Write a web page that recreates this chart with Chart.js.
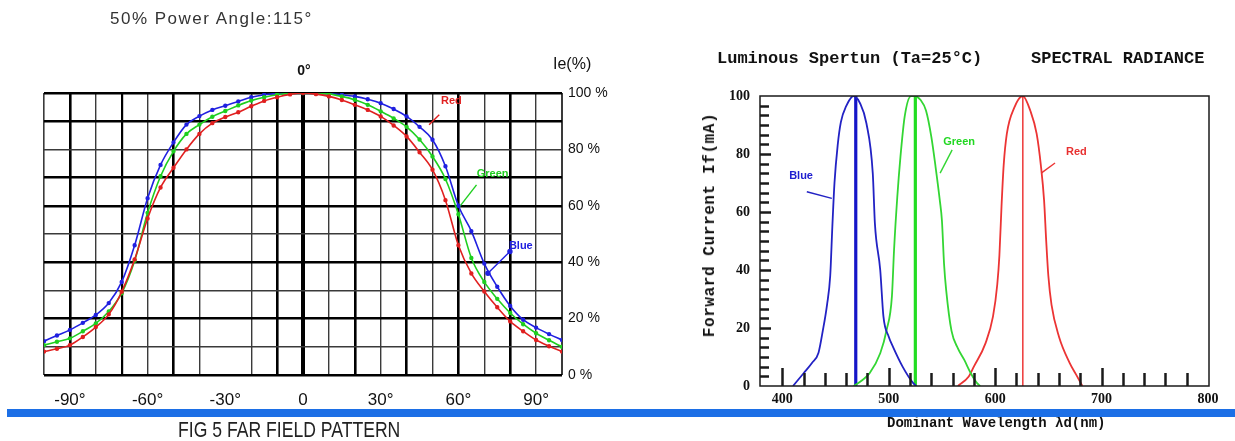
<!DOCTYPE html>
<html>
<head>
<meta charset="utf-8">
<script src="https://cdn.jsdelivr.net/npm/chart.js@4.4.1/dist/chart.umd.min.js"></script>
<style>
  html, body { margin: 0; padding: 0; background: #fff; }
  body { width: 1235px; height: 441px; position: relative; overflow: hidden; }
  .box { position: absolute; top: 0; height: 441px; }
  #farBox { left: 0; width: 620px; }
  #specBox { left: 620px; width: 615px; }
  .txt { position: absolute; white-space: nowrap; color: #111; line-height: 1; }
  .sans { font-family: 'Liberation Sans', Arial, sans-serif; }
  .mono { font-family: 'Liberation Mono', 'DejaVu Sans Mono', monospace; font-weight: bold; }
  #bar { position: absolute; left: 7px; top: 409px; width: 1228px; height: 8px; background: #1c6fe6; }
</style>
</head>
<body>
<div class="box" id="farBox"><canvas id="farChart" width="620" height="441"></canvas></div>
<div class="box" id="specBox"><canvas id="specChart" width="615" height="441"></canvas></div>

<div class="txt sans" style="left:110px; top:10px; font-size:17px; letter-spacing:1.5px; color:#333;">50% Power Angle:115°</div>
<div class="txt sans" style="left:304px; top:63px; font-size:14px; font-weight:bold; transform:translateX(-50%);">0°</div>
<div class="txt sans" style="left:553px; top:56px; font-size:16px;">Ie(%)</div>
<div class="txt sans" style="left:178px; top:419px; font-size:22px; transform:scaleX(0.8); transform-origin:left top; color:#222;">FIG 5 FAR FIELD PATTERN</div>

<div class="txt mono" style="left:717px; top:50px; font-size:17px;">Luminous Spertun (Ta=25°C)</div>
<div class="txt mono" style="left:1031px; top:50px; font-size:17px;">SPECTRAL RADIANCE</div>
<div class="txt mono" style="left:710px; top:225px; font-size:16px; letter-spacing:0.6px; transform:translate(-50%,-50%) rotate(-90deg);">Forward Current If(mA)</div>
<div class="txt mono" style="left:887px; top:416px; font-size:14px;">Dominant Wavelength λd(nm)</div>

<div id="bar"></div>

<script>
// ---- Far field pattern (left) ----
const farAngles = [-100, -95, -90, -85, -80, -75, -70, -65, -60, -55, -50, -45, -40, -35, -30, -25, -20, -15, -10, -5, 0,
  5, 10, 15, 20, 25, 30, 35, 40, 45, 50, 55, 60, 65, 70, 75, 80, 85, 90, 95, 100];
const farBlue = [12, 14, 16, 18.5, 21.3, 25.5, 33, 46, 62.7, 74.5, 82.5, 88.8, 91.8, 94, 95.5, 97, 98.5, 99.4, 99.8, 100, 100,
  100, 99.8, 99.4, 98.8, 97.8, 96.4, 94.3, 91.7, 88, 83.4, 74, 60, 51, 39.5, 31.3, 24.5, 19.6, 16.8, 14.5, 12.4];
const farGreen = [10.6, 11.8, 13, 15.5, 18.3, 22.5, 29, 40.5, 57.5, 70.5, 79.3, 85.5, 88.8, 91.6, 93.6, 95.6, 97.3, 98.5, 99.4, 99.9, 100,
  100, 99.7, 98.8, 97.6, 95.8, 93.5, 91, 88, 83.5, 77.5, 69.5, 57, 41.5, 33, 27, 22, 18, 14.8, 12.3, 10];
const farRed = [8.3, 9.3, 10.6, 13.5, 17, 21.5, 29.5, 41, 55.5, 66.5, 73.5, 80, 85.5, 89.3, 91.5, 93.2, 95.3, 97.2, 98.5, 99.5, 100,
  99.6, 98.8, 97.5, 95.8, 94, 91.7, 88.5, 84.6, 79, 72.8, 62, 46, 36, 29.6, 24, 19, 15.5, 12.4, 10.2, 8.3];

const farGridX = [-100, -90, -80, -70, -60, -50, -40, -30, -20, -10, 0, 10, 20, 30, 40, 50, 60, 70, 80, 90, 100];
const farLabelX = [-90, -60, -30, 0, 30, 60, 90];
const farGridY = [0, 10, 20, 30, 40, 50, 60, 70, 80, 90, 100];
const farLabelY = [0, 20, 40, 60, 80, 100];

// pointer labels: [text, x, y, colour] and arrow ends
const farNotes = [['Red', 57.3, 97.3, '#e02020'], ['Green', 73.2, 71.4, '#1fcf1f'], ['Blue', 84.1, 45.8, '#2020e0']];
const farRedArrow = [[52.6, 92.3], [48.7, 88.7]];
const farGreenArrow = [[67, 67.4], [60.4, 59.6]];
const farBlueArrow = [[79.9, 43.8], [71.4, 36.1]];

// ---- Spectrum (right) ----
const blueNm = [410, 420, 428, 434, 438, 442, 445, 447, 449, 452, 455, 460, 467, 473, 479, 485, 487, 492, 495, 500, 504, 513, 523, 526];
const blueVal = [0, 4.4, 8, 11.5, 19, 28, 38, 55, 70, 83, 91, 96.5, 100, 97.5, 90.6, 73.3, 56, 40, 24, 17, 13.5, 6.7, 1, 0];
const greenNm = [467, 475, 482, 492, 498, 503, 505, 508, 511, 515, 521, 524, 530, 535, 540, 544, 548, 550, 552, 554, 559, 565, 571, 577, 583, 586];
const greenVal = [0, 2, 4.4, 11.3, 19.3, 31, 47, 65, 79, 93, 100, 100, 98.6, 95, 86, 75.6, 64, 57, 42, 33, 19, 13, 9, 4.5, 1, 0];
const redNm = [565, 575, 580, 591, 598, 602, 604, 606, 608, 611, 618, 626, 633, 639, 643, 646, 648, 650, 653, 660, 670, 676, 682];
const redVal = [0, 3.2, 6.7, 14.8, 24, 35, 45, 62, 76, 87, 96, 100, 95, 87, 76, 64, 50, 38, 28, 17, 8, 4, 0];

const peakNm = { blue: 469, green: 525, red: 626 };
const specTicksX = [400, 500, 600, 700, 800];
const specTicksY = [0, 20, 40, 60, 80, 100];

const specNotes = [['Blue', 417.6, 72.4, '#2020d0'], ['Green', 566.2, 84, '#22d822'], ['Red', 676.3, 80.7, '#e83030']];
const specBlueArrow = [[423, 67], [446.5, 64.7]];
const specGreenArrow = [[559.6, 81.4], [548.3, 73.4]];
const specRedArrow = [[656.3, 76.9], [643.3, 73.4]];

const toPts = (xs, ys) => xs.map((x, i) => ({ x: x, y: ys[i] }));
const pairPts = arr => arr.map(p => ({ x: p[0], y: p[1] }));

// draws small pointer labels in data coordinates
const notesPlugin = {
  id: 'notes',
  afterDatasetsDraw(chart, args, opts) {
    const { ctx, scales } = chart;
    ctx.save();
    ctx.font = 'bold 11px "Liberation Sans", Arial, sans-serif';
    ctx.textAlign = 'center';
    ctx.textBaseline = 'middle';
    (opts.items || []).forEach(n => {
      ctx.fillStyle = n[3];
      ctx.fillText(n[0], scales.x.getPixelForValue(n[1]), scales.y.getPixelForValue(n[2]));
    });
    ctx.restore();
  }
};

// frame + inward tick marks for the spectrum chart
const specFramePlugin = {
  id: 'specFrame',
  afterDraw(chart) {
    const { ctx, chartArea: a, scales } = chart;
    ctx.save();
    ctx.strokeStyle = '#1a1a1a';
    ctx.lineWidth = 1.5;
    ctx.strokeRect(a.left, a.top, a.right - a.left, a.bottom - a.top);
    ctx.lineWidth = 2.5;
    for (let v = 400; v < 800; v += 20) {
      const px = Math.round(scales.x.getPixelForValue(v)) + 0.5;
      const len = v % 100 === 0 ? 18 : 13;
      ctx.beginPath();
      ctx.moveTo(px, a.bottom);
      ctx.lineTo(px, a.bottom - len);
      ctx.stroke();
    }
    for (let k = 1; k < 30; k++) {
      const py = Math.round(scales.y.getPixelForValue(k * 100 / 30)) + 0.5;
      ctx.beginPath();
      ctx.moveTo(a.left, py);
      ctx.lineTo(a.left + (k % 6 === 0 ? 11 : 9), py);
      ctx.stroke();
    }
    ctx.restore();
  }
};

function gridWidthX(v) {
  if (v === 0) return 4;
  if (v === -100) return 1.6;
  if (v === 100) return 2;
  if ([-90, -50, -10, 20, 40, 60, 80].includes(v)) return 2.6;
  if (v === -70) return 2.2;
  return 1.4;
}
function gridWidthY(v) {
  if (v === 0 || v === 100) return 2.4;
  if ([90, 70, 60, 40, 20].includes(v)) return 2.6;
  return 1.4;
}

const farLine = (label, data, color) => ({
  label: label, data: data, borderColor: color, backgroundColor: color,
  borderWidth: 1.6, pointRadius: 1.4, pointHoverRadius: 0, cubicInterpolationMode: 'monotone'
});
const arrowLine = (data, color, r) => ({
  data: data, borderColor: color, backgroundColor: color, borderWidth: 1.4, pointRadius: r
});

new Chart(document.getElementById('farChart'), {
  type: 'line',
  data: {
    datasets: [
      farLine('Red', toPts(farAngles, farRed), '#e02020'),
      farLine('Green', toPts(farAngles, farGreen), '#1fcf1f'),
      farLine('Blue', toPts(farAngles, farBlue), '#2020e0'),
      arrowLine(pairPts(farRedArrow), '#e02020', 0),
      arrowLine(pairPts(farGreenArrow), '#1fcf1f', 0),
      arrowLine(pairPts(farBlueArrow), '#2020e0', 2)
    ]
  },
  options: {
    responsive: false,
    animation: false,
    layout: { padding: { left: 44, top: 93, right: 0, bottom: 0 } },
    plugins: {
      legend: { display: false },
      tooltip: { enabled: false },
      notes: { items: farNotes }
    },
    scales: {
      x: {
        type: 'linear', min: -100, max: 100,
        afterBuildTicks: axis => { axis.ticks = farGridX.map(v => ({ value: v })); },
        afterFit: s => { s.height = 66; },
        border: { display: false },
        grid: {
          drawTicks: false,
          color: ctx => (ctx.tick && ctx.tick.value === -30) ? 'rgba(0,0,0,0)' : (gridWidthX(ctx.tick ? ctx.tick.value : 1) > 2 ? '#000' : '#3a3a3a'),
          lineWidth: ctx => gridWidthX(ctx.tick ? ctx.tick.value : 1)
        },
        ticks: {
          autoSkip: false, maxRotation: 0, padding: 15, color: '#111',
          font: { family: 'Liberation Sans', size: 17 },
          callback: v => farLabelX.includes(v) ? (v === 0 ? '0' : v + '°') : ''
        }
      },
      y: {
        type: 'linear', position: 'right', min: 0, max: 100,
        afterBuildTicks: axis => { axis.ticks = farGridY.map(v => ({ value: v })); },
        afterFit: s => { s.width = 58; },
        border: { display: false },
        grid: {
          drawTicks: false,
          color: ctx => gridWidthY(ctx.tick ? ctx.tick.value : 1) > 2 ? '#000' : '#3a3a3a',
          lineWidth: ctx => gridWidthY(ctx.tick ? ctx.tick.value : 1)
        },
        ticks: {
          autoSkip: false, padding: 6, color: '#111',
          font: { family: 'Liberation Sans', size: 14 },
          callback: v => farLabelY.includes(v) ? v + ' %' : ''
        }
      }
    }
  },
  plugins: [notesPlugin]
});

const specLine = (data, color, w) => ({
  data: data, borderColor: color, borderWidth: w, pointRadius: 0, cubicInterpolationMode: 'monotone'
});
const peakLine = (nm, color, w) => ({
  data: [{ x: nm, y: 0 }, { x: nm, y: 100 }], borderColor: color, borderWidth: w, pointRadius: 0
});

new Chart(document.getElementById('specChart'), {
  type: 'line',
  data: {
    datasets: [
      specLine(toPts(blueNm, blueVal), '#2222c4', 1.8),
      specLine(toPts(greenNm, greenVal), '#33d633', 1.8),
      specLine(toPts(redNm, redVal), '#ec3434', 1.8),
      peakLine(peakNm.blue, '#1515c8', 3.2),
      peakLine(peakNm.green, '#22dd22', 3.2),
      peakLine(peakNm.red, '#ee4444', 1.6),
      arrowLine(pairPts(specBlueArrow), '#2222c4', 0),
      arrowLine(pairPts(specGreenArrow), '#33d633', 0),
      arrowLine(pairPts(specRedArrow), '#ec3434', 0)
    ]
  },
  options: {
    responsive: false,
    animation: false,
    layout: { padding: { left: 0, top: 96, right: 26, bottom: 0 } },
    plugins: {
      legend: { display: false },
      tooltip: { enabled: false },
      notes: { items: specNotes }
    },
    scales: {
      x: {
        type: 'linear', min: 379, max: 801,
        afterBuildTicks: axis => { axis.ticks = specTicksX.map(v => ({ value: v })); },
        afterFit: s => { s.height = 55; },
        border: { display: false },
        grid: { display: false, drawTicks: false },
        ticks: {
          autoSkip: false, maxRotation: 0, padding: 5, color: '#111',
          font: { family: 'Liberation Serif', size: 14, weight: 'bold' }
        }
      },
      y: {
        type: 'linear', min: 0, max: 100,
        afterBuildTicks: axis => { axis.ticks = specTicksY.map(v => ({ value: v })); },
        afterFit: s => { s.width = 140; },
        border: { display: false },
        grid: { display: false, drawTicks: false },
        ticks: {
          autoSkip: false, padding: 10, color: '#111',
          font: { family: 'Liberation Serif', size: 14, weight: 'bold' }
        }
      }
    }
  },
  plugins: [notesPlugin, specFramePlugin]
});
</script>
</body>
</html>
